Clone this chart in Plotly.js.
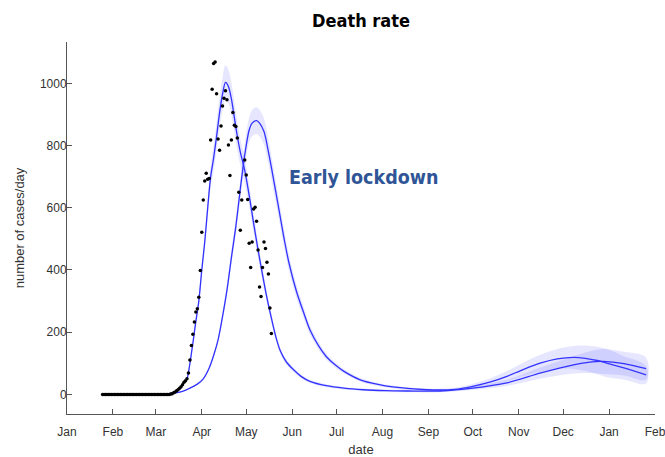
<!DOCTYPE html>
<html>
<head>
<meta charset="utf-8">
<script src="https://cdn.plot.ly/plotly-3.0.1.min.js"></script>
<style>html,body{margin:0;padding:0;background:#fff;}#chart{width:665px;height:457px;}</style>
</head>
<body>
<div id="chart"></div>
<script>
// ---- data (days counted from 2020-01-01) ----
var obsStartDay = 24; // 2020-01-25, one value per day
var deaths = [
  0,0,0,0,0,0,0,0,0,0,
  0,0,0,0,0,0,0,0,0,0,
  0,0,0,0,0,0,0,0,0,0,
  0,0,0,0,0,0,0,0,0,0,
  0,0,0,0,0,0,
  1,2,5,8,12,15,20,25,31,39,
  44,50,69,111,157,193,233,265,275,312,
  398,521,625,686,711,692,694,818,981,1064,
  1069,967,821,785,863,927,952,976,947,802,
  704,818,906,865,861,824,650,528,625,null,
  754,705,627,486,408,490,596,602,557,464,
  345,315,408,490,469,425,387,278,196
];

// model fit (first curve)
var fitDays = [24,40,55,62,66,70,73,76,79,81,83,85,87,89,91,93,95,97,99,101,103,105,107,109,111,113,115,117,120,123,126,129,132,135,138,141,144,148,153,158,164,175,187,200,215,230,252,274,297,320,342,353,362,376,391];
var fitVals = [0,0,0,0.3,1,3,8,20,38,50,100,165,235,300,400,490,600,700,760,830,905,965,1003,990,950,890,830,780,720,640,550,465,385,310,245,185,140,105,79,58,42,28,20,15,12,11,11,20,37,69,95,104,106,99,83];
var fitErr  = [0,0,0,0,0,0,0.5,1,2,3,5,8,12,15,20,25,30,35,40,45,50,53,55,54,52,49,46,43,40,35,30,26,22,18,15,12,10,8,7,6,5,5,4,4,4,4,4,6,10,18,28,35,40,38,35];

// early lockdown scenario (second curve)
var altDays = [24,60,68,72,78,83,88,92,96,99,102,105,108,111,114,117,120,123,125,128,130,133,136,138,141,144,147,150,155,160,164,170,175,181,187,198,210,220,243,262,274,286,297,308,320,331,342,350,358,365,376,391];
var altVals = [0,0,0.5,4,10,20,33,50,85,125,175,250,335,440,540,660,770,850,872,880,872,845,780,730,650,570,490,420,330,260,208,155,122,95,74,47,32,24,15,16,26,40,58,80,101,114,119,116,109,100,85,63];
var altErr  = [0,0,0,0,0.5,1,2,3,5,7,9,12,16,21,26,31,36,40,42,43,43,42,40,38,35,32,29,26,22,18,15,12,10,8,7,6,5,5,4,5,8,12,17,22,27,32,37,41,44,45,38,28];

var monthLabels = ['Jan','Feb','Mar','Apr','May','Jun','Jul','Aug','Sep','Oct','Nov','Dec','Jan','Feb'];

// ---- helpers ----
function dayToDate(d){
  var ms = Date.UTC(2020,0,1) + d*86400000;
  return new Date(ms).toISOString().slice(0,19).replace('T',' ');
}
function band(days, vals, err, color){
  var xs = [], ys = [];
  for (var i=0;i<days.length;i++){ xs.push(dayToDate(days[i])); ys.push(vals[i]+err[i]); }
  for (var j=days.length-1;j>=0;j--){ xs.push(dayToDate(days[j])); ys.push(vals[j]-err[j]); }
  return {x:xs, y:ys, type:'scatter', mode:'lines', fill:'toself', fillcolor:color,
          line:{width:0, shape:'spline'}, hoverinfo:'skip', showlegend:false};
}
function curve(days, vals){
  return {x:days.map(dayToDate), y:vals, type:'scatter', mode:'lines',
          line:{color:'rgb(50,50,255)', width:1.3, shape:'spline', smoothing:0.8}, showlegend:false};
}
var obsX = deaths.map(function(v,i){ return dayToDate(obsStartDay+i); });

var tickVals = monthLabels.map(function(m,i){ return new Date(Date.UTC(2020,i,1)).toISOString().slice(0,10); });

var data = [
  band(altDays, altVals, altErr, 'rgba(90,90,255,0.15)'),
  curve(altDays, altVals),
  band(fitDays, fitVals, fitErr, 'rgba(90,90,255,0.15)'),
  curve(fitDays, fitVals),
  {x:obsX, y:deaths, type:'scatter', mode:'markers',
   marker:{color:'#000', size:3.5}, showlegend:false}
];

var font = '"DejaVu Sans Condensed", "Liberation Sans", Arial, sans-serif';
var tickFont = '"Liberation Sans", Arial, sans-serif';
var layout = {
  width:665, height:457,
  margin:{l:67, r:10, t:42, b:43},
  paper_bgcolor:'#fff', plot_bgcolor:'#fff',
  showlegend:false,
  font:{family:font, size:12, color:'#333'},
  title:{text:'<b>Death rate</b>', font:{family:font, size:18, color:'#000'},
         x:0.5, xref:'paper', y:0.955, yanchor:'middle'},
  xaxis:{type:'date', range:['2020-01-01','2021-02-01'],
         tickmode:'array', tickvals:tickVals, ticktext:monthLabels,
         ticks:'inside', ticklen:5, tickcolor:'#555', showline:true, linecolor:'#555', linewidth:1,
         showgrid:false, zeroline:false, tickfont:{family:tickFont, size:12, color:'#333'},
         ticklabelstandoff:7, ticklabeloverflow:'allow',
         title:{text:'date', font:{family:tickFont, size:13, color:'#333'}, standoff:10}},
  yaxis:{range:[-63,1133], tickvals:[0,200,400,600,800,1000],
         ticks:'inside', ticklen:5, tickcolor:'#555', showline:true, linecolor:'#555', linewidth:1,
         showgrid:false, zeroline:false, tickfont:{family:tickFont, size:12, color:'#333'},
         ticklabelstandoff:-3,
         title:{text:'number of cases/day', font:{family:tickFont, size:13, color:'#333'}, standoff:12}},
  annotations:[{x:dayToDate(200), y:696, xref:'x', yref:'y', text:'<b>Early lockdown</b>',
    showarrow:false, font:{family:font, size:19.5, color:'#2F5597'}}]
};
Plotly.newPlot('chart', data, layout, {displayModeBar:false, staticPlot:true});
</script>
</body>
</html>
